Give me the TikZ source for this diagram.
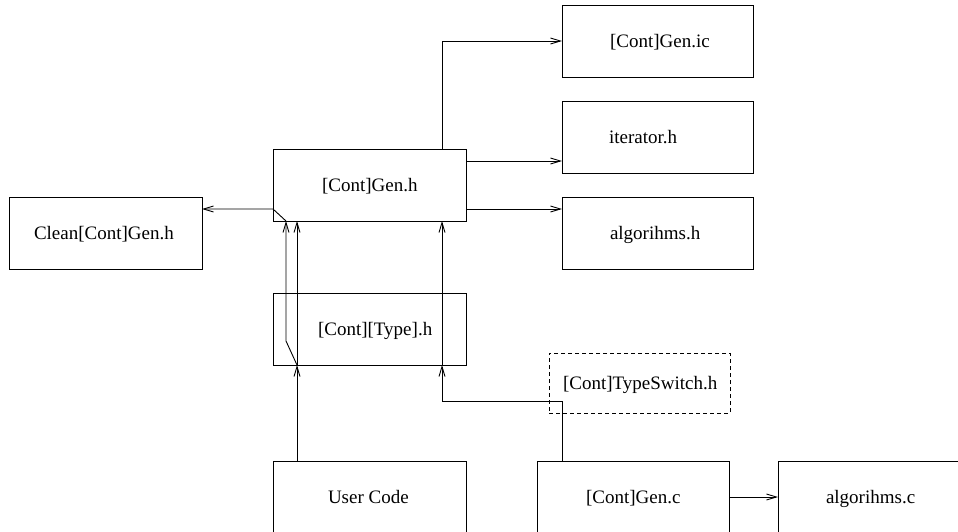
\documentclass[tikz,border=0pt]{standalone}
\usepackage{fontspec}
\setmainfont{Liberation Serif}
\usetikzlibrary{arrows.meta}

\tikzset{
  filebox/.style={draw, line width=0.9pt, rectangle, inner sep=0pt, outer sep=0pt,
    minimum width=#1, minimum height=72pt},
  filebox/.default=192pt,
  optbox/.style={filebox=181pt, minimum height=60pt, dashed, dash pattern=on 4pt off 3pt},
  lbl/.style={inner sep=0pt, outer sep=0pt, anchor=base west,
    font=\fontsize{19}{23}\selectfont},
  dep/.style={draw, line width=0.9pt, -{Straight Barb[length=10pt,width=6pt]}},
  link/.style={draw, line width=0.9pt}
}

\begin{document}
\begin{tikzpicture}[x=1pt, y=-1pt]
  \useasboundingbox (0,0) rectangle (958,531);
  \clip (0,0) rectangle (958,531);

  % header files
  \node[filebox=191pt] (genic) at (657.5,41)  {};
  \node[filebox=191pt] (iter)  at (657.5,137) {};
  \node[filebox=191pt] (algh)  at (657.5,233) {};
  \node[filebox=193pt] (gen)   at (369.5,185) {};
  \node[filebox=193pt] (clean) at (105.5,233) {};
  \node[filebox=193pt] (type)  at (369.5,329) {};
  \node[optbox]        (tsw)   at (639.5,383) {};

  % sources (cut by the lower border)
  \node[filebox=193pt] (user) at (369.5,497) {};
  \node[filebox=192pt] (genc) at (633,497)   {};
  \node[filebox=192pt] (algc) at (874,497)   {};

  % file names
  \node[lbl] (genicT) at (610,47.3)  {[Cont]Gen.ic};
  \node[lbl] (iterT)  at (609,143.3) {iterator.h};
  \node[lbl] (alghT)  at (610,239.3) {algorihms.h};
  \node[lbl] (genT)   at (322,191.3) {[Cont]Gen.h};
  \node[lbl] (cleanT) at (34,239.3)  {Clean[Cont]Gen.h};
  \node[lbl] (typeT)  at (318,335.3) {[Cont][Type].h};
  \node[lbl] (tswT)   at (563,389.3) {[Cont]TypeSwitch.h};
  \node[lbl] (userT)  at (328,503.3) {User Code};
  \node[lbl] (gencT)  at (586,503.3) {[Cont]Gen.c};
  \node[lbl] (algcT)  at (826,503.3) {algorihms.c};

  % helper points on the box edges
  \coordinate (uType) at ([xshift=-72.5pt]type.south);
  \coordinate (bend)  at ([xshift=-83.5pt,yshift=24pt]type.south);
  \coordinate (kink)  at ([yshift=12pt]gen.south west);
  \coordinate (cType) at ([xshift=72.5pt]type.south);

  % [Cont]Gen.h includes
  \draw[dep] ([xshift=72.5pt]gen.north) |- (genic.west);
  \draw[dep] ([yshift=24pt]gen.east) -- ([yshift=24pt]gen.east -| iter.west);
  \draw[dep] ([yshift=-24pt]gen.east) -- ([yshift=-24pt]gen.east -| algh.west);

  % user code chain
  \draw[dep] ([xshift=-72.5pt]user.north) -- (uType);
  \draw[dep] (uType) -- ([xshift=-72.5pt]gen.south);
  \draw[dep] (uType) -- (bend) -- ([xshift=-83.5pt]gen.south);
  \draw[dep] ([xshift=-83.5pt]gen.south) -- (kink) -- (kink -| clean.east);

  % generated source chain
  \draw[dep] ([xshift=-71pt]genc.north) |- ([yshift=-36pt]cType) -- (cType);
  \draw[dep] (cType) -- ([xshift=72.5pt]gen.south);
  \draw[dep] (genc.east) -- (algc.west);
\end{tikzpicture}
\end{document}
